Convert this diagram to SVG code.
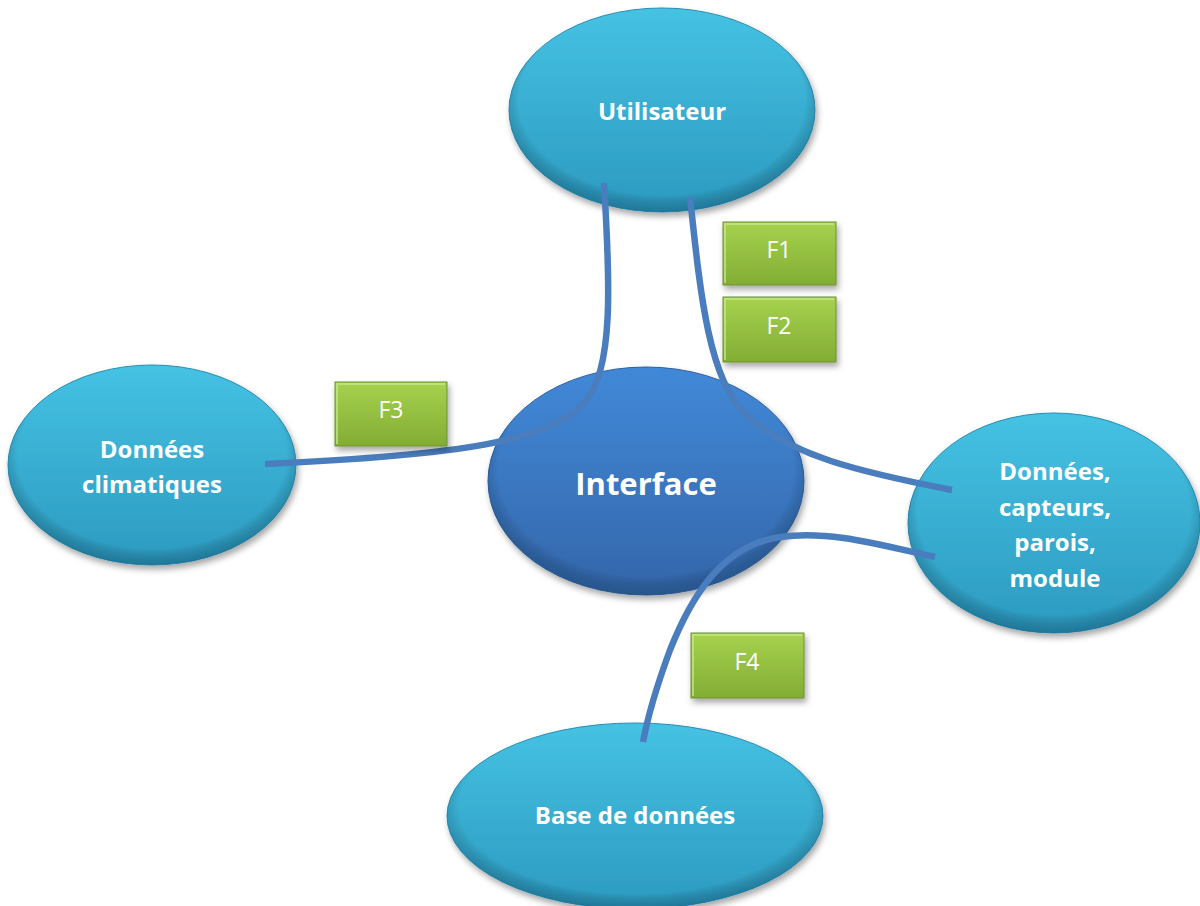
<svg xmlns="http://www.w3.org/2000/svg" width="1200" height="906" viewBox="0 0 1200 906">
<defs>
<linearGradient id="gCyan" x1="0" y1="0" x2="0" y2="1">
<stop offset="0" stop-color="#45c2e3"/>
<stop offset="1" stop-color="#2c9ac0"/>
</linearGradient>
<linearGradient id="gBlue" x1="0" y1="0" x2="0" y2="1">
<stop offset="0" stop-color="#4189d8"/>
<stop offset="1" stop-color="#3466aa"/>
</linearGradient>
<linearGradient id="gGreen" x1="0" y1="0" x2="0" y2="1">
<stop offset="0" stop-color="#a6d24e"/>
<stop offset="1" stop-color="#82ad34"/>
</linearGradient>
<radialGradient id="gEdge" cx="0.5" cy="0.45" r="0.55">
<stop offset="0.85" stop-color="#000" stop-opacity="0"/>
<stop offset="1" stop-color="#0a3a55" stop-opacity="0.35"/>
</radialGradient>
<filter id="shadow" x="-10%" y="-10%" width="130%" height="130%">
<feDropShadow dx="2" dy="4" stdDeviation="3" flood-color="#000" flood-opacity="0.35"/>
</filter>
</defs>
<style>
.node{fill:url(#gCyan);stroke:#2a8db3;stroke-width:1;filter:url(#shadow)}
.core{fill:url(#gBlue);stroke:#2f5f9e;stroke-width:1;filter:url(#shadow)}
.edge{fill:url(#gEdge);stroke:none}
.lbl{font-family:"Open Sans","Liberation Sans",sans-serif;font-weight:bold;fill:#fff;text-anchor:middle;font-size:24px}
.big{font-size:31px}
.box{fill:url(#gGreen);stroke:#6f8f30;stroke-width:1;filter:url(#shadow)}
.hl{fill:none;stroke:#c9e88f;stroke-width:2;stroke-opacity:0.7}
.flbl{font-family:"Open Sans","Liberation Sans",sans-serif;fill:#fff;text-anchor:middle;font-size:23px}
.conn{fill:none;stroke:#4a7dbd;stroke-width:6.5;stroke-linecap:butt}
</style>

<g id="node-utilisateur">
<ellipse class="node" cx="662" cy="110" rx="153" ry="102"/>
<ellipse class="edge" cx="662" cy="110" rx="153" ry="102"/>
<text class="lbl" x="662" y="120">Utilisateur</text>
</g>

<g id="node-climatiques">
<ellipse class="node" cx="152" cy="465" rx="144" ry="100"/>
<ellipse class="edge" cx="152" cy="465" rx="144" ry="100"/>
<text class="lbl" x="152" y="458">Données</text>
<text class="lbl" x="152" y="493">climatiques</text>
</g>

<g id="node-capteurs">
<ellipse class="node" cx="1054" cy="523" rx="146" ry="110"/>
<ellipse class="edge" cx="1054" cy="523" rx="146" ry="110"/>
<text class="lbl" x="1055" y="480">Données,</text>
<text class="lbl" x="1055" y="516">capteurs,</text>
<text class="lbl" x="1055" y="551">parois,</text>
<text class="lbl" x="1055" y="587">module</text>
</g>

<g id="node-base">
<ellipse class="node" cx="635" cy="816" rx="188" ry="93"/>
<ellipse class="edge" cx="635" cy="816" rx="188" ry="93"/>
<text class="lbl" x="635" y="824">Base de données</text>
</g>

<g id="node-interface">
<ellipse class="core" cx="646" cy="481" rx="158" ry="114"/>
<ellipse class="edge" cx="646" cy="481" rx="158" ry="114"/>
<text class="lbl big" x="646" y="495">Interface</text>
</g>

<g id="connectors">
<path class="conn" d="M 604 183 C 610 280, 614 370, 585 402 C 548 442, 460 455, 265 464"/>
<path class="conn" d="M 690 197 C 700 290, 708 378, 745 414 C 790 456, 860 472, 952 490"/>
<path class="conn" d="M 935 557 C 880 545, 830 530, 780 537 C 720 546, 690 600, 670 650 C 656 688, 648 715, 643 742"/>
</g>

<g id="box-f1">
<rect class="box" x="723" y="222" width="113" height="63"/>
<path class="hl" d="M 725 283 L 725 224 L 834 224"/>
<text class="flbl" x="779" y="258">F1</text>
</g>
<g id="box-f2">
<rect class="box" x="723" y="297" width="113" height="65"/>
<path class="hl" d="M 725 360 L 725 299 L 834 299"/>
<text class="flbl" x="779" y="334">F2</text>
</g>
<g id="box-f3">
<rect class="box" x="335" y="382" width="112" height="64"/>
<path class="hl" d="M 337 444 L 337 384 L 445 384"/>
<text class="flbl" x="391" y="418">F3</text>
</g>
<g id="box-f4">
<rect class="box" x="691" y="633" width="113" height="65"/>
<path class="hl" d="M 693 696 L 693 635 L 802 635"/>
<text class="flbl" x="747" y="670">F4</text>
</g>
</svg>
